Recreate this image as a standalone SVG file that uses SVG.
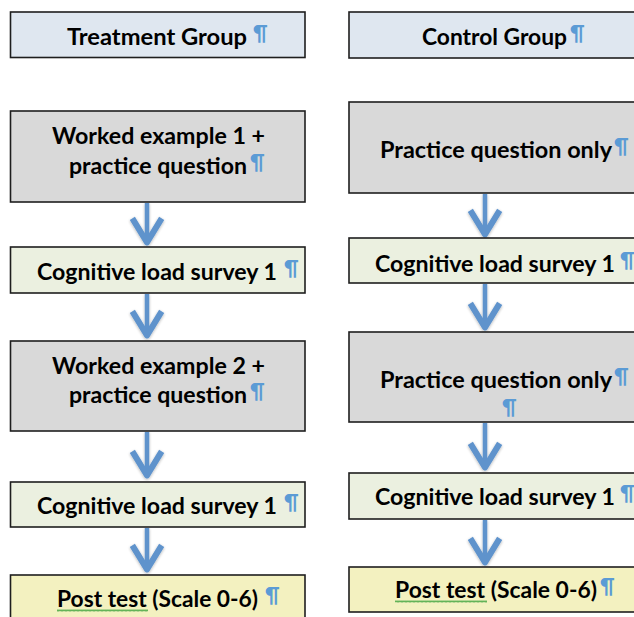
<svg xmlns="http://www.w3.org/2000/svg" width="634" height="617" viewBox="0 0 634 617">
<style>
.box{stroke:#1e1e1e;stroke-width:1.6}
.hdr{fill:#dfe7f0}
.gray{fill:#d9d9d9}
.cog{fill:#ebf0e0}
.post{fill:#f3f1c0}
.t{font-family:Lato,"Open Sans",sans-serif;font-weight:700;font-size:22px;fill:#000}
.p{font-family:Lato,"Open Sans",sans-serif;font-weight:700;font-size:20px;fill:#5b9bd5}
.conn{stroke:#5f93cc;stroke-width:4.5;fill:none}
</style>
<defs>
<marker id="ah" markerUnits="userSpaceOnUse" markerWidth="40" markerHeight="40" viewBox="-25 -15 30 30" refX="0" refY="0" orient="auto" overflow="visible">
<path d="M-17,-11 L1,0 L-17,11" fill="none" stroke="#5f93cc" stroke-width="4.5" stroke-linejoin="round"/>
</marker>
<filter id="sh" filterUnits="userSpaceOnUse" x="0" y="0" width="634" height="617">
<feGaussianBlur in="SourceAlpha" stdDeviation="1.5"/>
<feOffset dy="1"/>
<feComponentTransfer><feFuncA type="linear" slope="0.3"/></feComponentTransfer>
<feMerge><feMergeNode/><feMergeNode in="SourceGraphic"/></feMerge>
</filter>
<pattern id="sq" patternUnits="userSpaceOnUse" width="4" height="3">
<path d="M0,2.5 L1,0.5 L2,2.5 L3,0.5 L4,2.5" fill="none" stroke="#3da33d" stroke-width="0.8"/>
</pattern>
</defs>
<rect width="634" height="617" fill="#fff"/>

<g id="connectors" filter="url(#sh)">
<line class="conn" x1="147" y1="203" x2="147" y2="241" marker-end="url(#ah)"/>
<line class="conn" x1="147" y1="294" x2="147" y2="334" marker-end="url(#ah)"/>
<line class="conn" x1="147" y1="432" x2="147" y2="474" marker-end="url(#ah)"/>
<line class="conn" x1="147" y1="528" x2="147" y2="568" marker-end="url(#ah)"/>
<line class="conn" x1="485" y1="194" x2="485" y2="233" marker-end="url(#ah)"/>
<line class="conn" x1="485" y1="284" x2="485" y2="326" marker-end="url(#ah)"/>
<line class="conn" x1="485" y1="423" x2="485" y2="466" marker-end="url(#ah)"/>
<line class="conn" x1="485" y1="520" x2="485" y2="561" marker-end="url(#ah)"/>
</g>

<g id="treatment-group">
<rect class="box hdr" x="10.5" y="12" width="294.5" height="45.5"/>
<text class="t" x="67" y="45" textLength="180" lengthAdjust="spacingAndGlyphs">Treatment Group</text>
<text class="p" x="253" y="40">¶</text>
</g>
<g id="control-group">
<rect class="box hdr" x="349" y="12" width="300" height="46"/>
<text class="t" x="422" y="45" textLength="145" lengthAdjust="spacingAndGlyphs">Control Group</text>
<text class="p" x="570" y="40">¶</text>
</g>

<g id="t-worked1">
<rect class="box gray" x="10.5" y="111" width="294.5" height="91"/>
<text class="t" x="52" y="144" textLength="213" lengthAdjust="spacingAndGlyphs">Worked example 1 +</text>
<text class="t" x="69" y="174" textLength="178" lengthAdjust="spacingAndGlyphs">practice question</text>
<text class="p" x="250" y="169">¶</text>
</g>
<g id="t-survey1">
<rect class="box cog" x="10.5" y="247" width="294.5" height="46"/>
<text class="t" x="37" y="280" textLength="240" lengthAdjust="spacingAndGlyphs">Cognitive load survey 1</text>
<text class="p" x="284" y="275">¶</text>
</g>
<g id="t-worked2">
<rect class="box gray" x="10.5" y="341" width="294.5" height="90"/>
<text class="t" x="52" y="374" textLength="213" lengthAdjust="spacingAndGlyphs">Worked example 2 +</text>
<text class="t" x="69" y="403" textLength="178" lengthAdjust="spacingAndGlyphs">practice question</text>
<text class="p" x="250" y="398">¶</text>
</g>
<g id="t-survey2">
<rect class="box cog" x="10.5" y="482" width="294.5" height="45"/>
<text class="t" x="37" y="514" textLength="240" lengthAdjust="spacingAndGlyphs">Cognitive load survey 1</text>
<text class="p" x="284" y="509">¶</text>
</g>
<g id="t-posttest">
<rect class="box post" x="10.5" y="575" width="294.5" height="60"/>
<rect x="57" y="609" width="91" height="3" fill="url(#sq)"/>
<text class="t" x="57" y="607" textLength="201" lengthAdjust="spacingAndGlyphs">Post test (Scale 0-6)</text>
<text class="p" x="265" y="602">¶</text>
</g>

<g id="c-practice1">
<rect class="box gray" x="349" y="102" width="300" height="91"/>
<text class="t" x="380" y="158" textLength="232" lengthAdjust="spacingAndGlyphs">Practice question only</text>
<text class="p" x="614" y="153">¶</text>
</g>
<g id="c-survey1">
<rect class="box cog" x="349" y="238" width="300" height="45"/>
<text class="t" x="375" y="272" textLength="240" lengthAdjust="spacingAndGlyphs">Cognitive load survey 1</text>
<text class="p" x="620" y="267">¶</text>
</g>
<g id="c-practice2">
<rect class="box gray" x="349" y="332" width="300" height="90"/>
<text class="t" x="380" y="388" textLength="232" lengthAdjust="spacingAndGlyphs">Practice question only</text>
<text class="p" x="614" y="383">¶</text>
<text class="p" x="502" y="414">¶</text>
</g>
<g id="c-survey2">
<rect class="box cog" x="349" y="473" width="300" height="46"/>
<text class="t" x="375" y="505" textLength="240" lengthAdjust="spacingAndGlyphs">Cognitive load survey 1</text>
<text class="p" x="620" y="500">¶</text>
</g>
<g id="c-posttest">
<rect class="box post" x="349" y="567" width="300" height="45"/>
<rect x="395" y="600" width="92" height="3" fill="url(#sq)"/>
<text class="t" x="395" y="598" textLength="202" lengthAdjust="spacingAndGlyphs">Post test (Scale 0-6)</text>
<text class="p" x="600" y="593">¶</text>
</g>
</svg>
